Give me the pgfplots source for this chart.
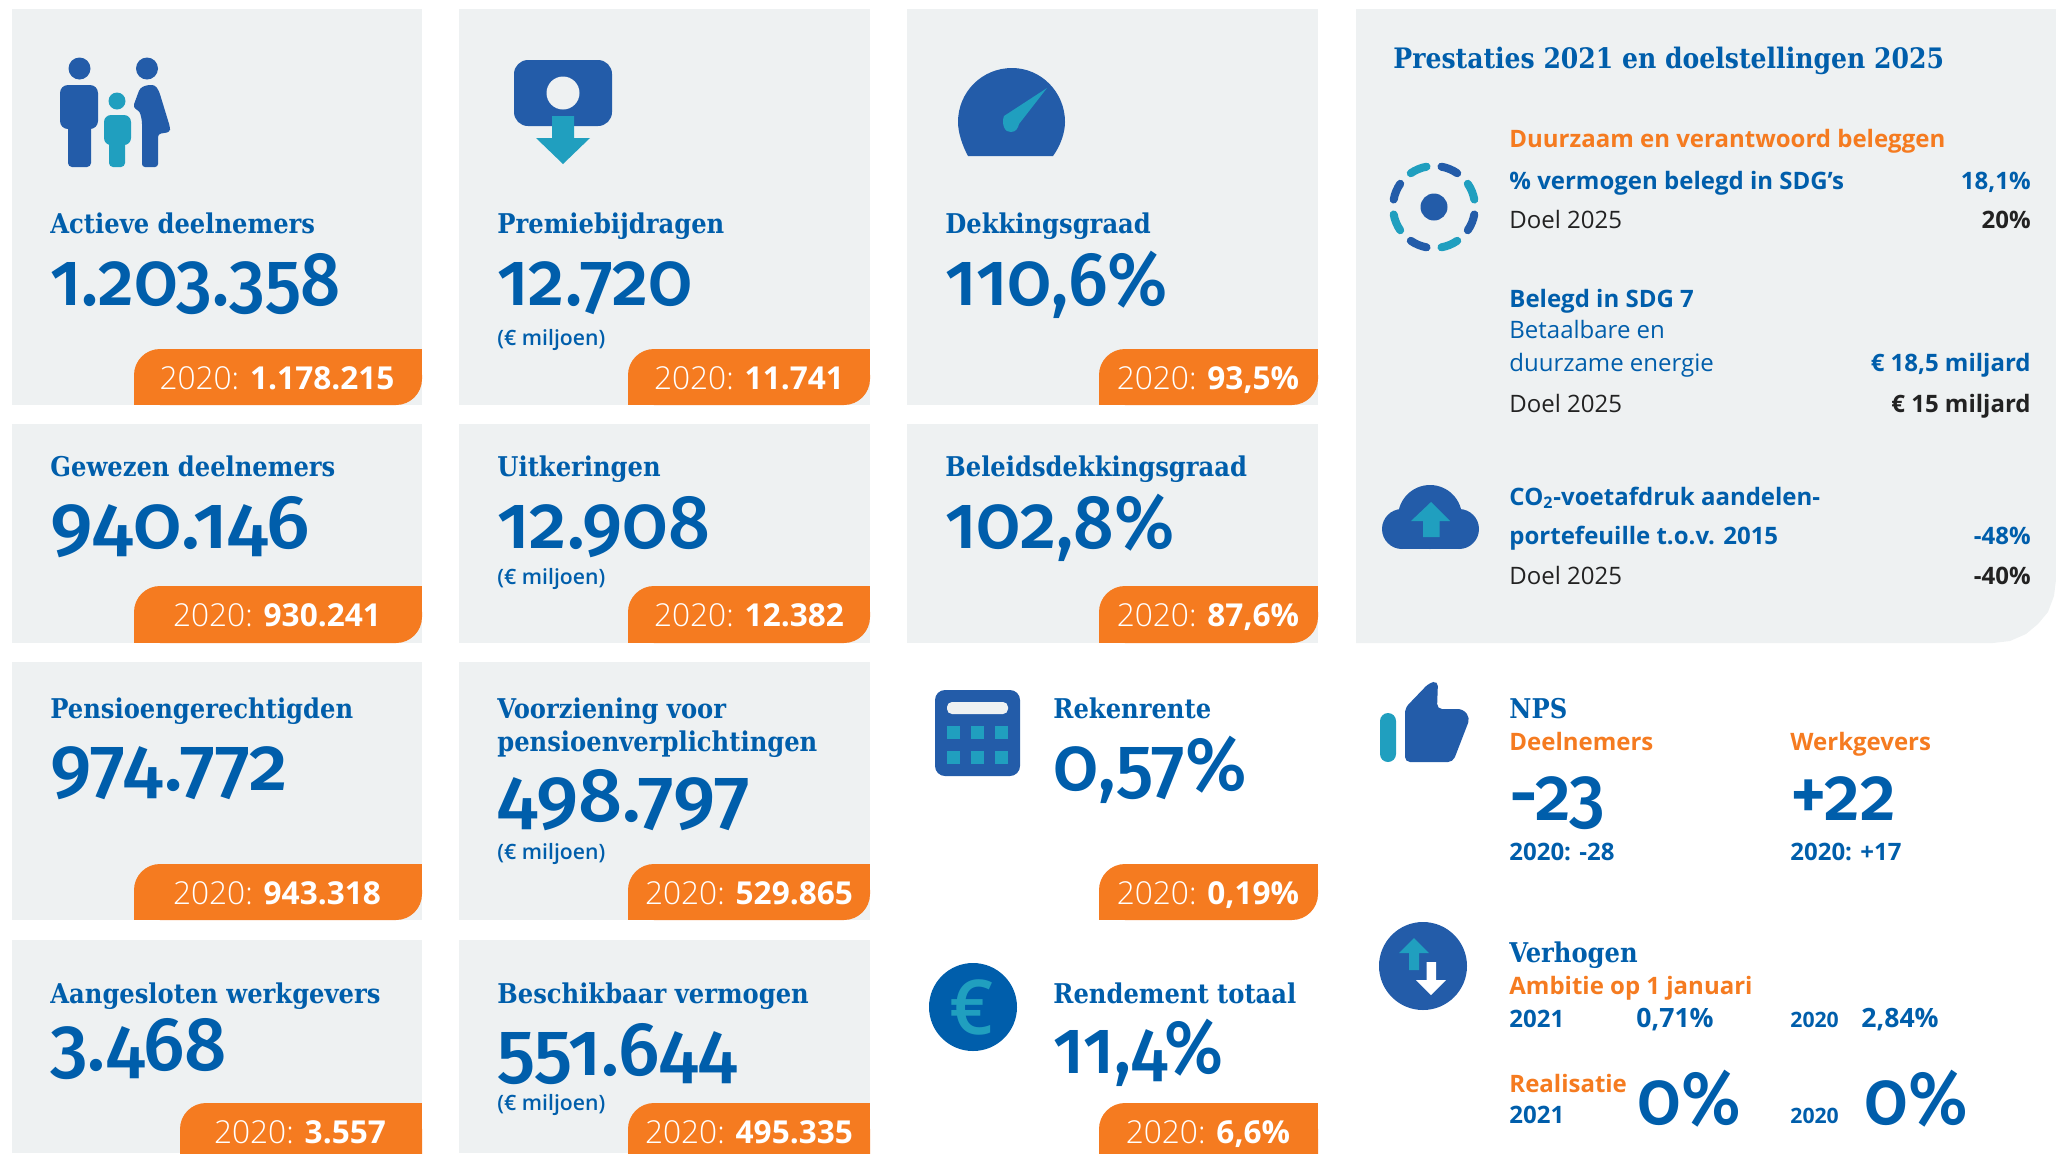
\documentclass[border=0pt]{standalone}
\usepackage{fontspec}
\usepackage{graphicx}
\usepackage{pgfplots}
\pgfplotsset{compat=1.18}
\setmainfont{Open Sans}
\newfontfamily\semi{Open Sans Semibold}
\newfontfamily\light{Open Sans Light}
\newfontfamily\bignum[Numbers=OldStyle]{Fira Sans Medium}
\newfontfamily\ttl[FakeStretch=0.99]{DejaVu Serif Condensed Bold}
\definecolor{panel}{HTML}{EEF1F2}
\definecolor{tabor}{HTML}{F57B20}
\definecolor{tblue}{HTML}{005EAB}
\definecolor{iblue}{HTML}{235CA9}
\definecolor{teal1}{HTML}{209FBF}
\definecolor{dark1}{HTML}{222222}
\newcommand\card[4]{\addplot[fill=panel,draw=none] coordinates {(#1,#3) (#2,#3) (#2,#4) (#1,#4)} --cycle;}
\newcommand\tab[4]{%
  \pgfmathsetmacro\xa{#1+28}\pgfmathsetmacro\xb{#2-28}\pgfmathsetmacro\ya{#3+27}\pgfmathsetmacro\yb{#4-27}%
  \addplot[fill=tabor,draw=none,rounded corners=13pt] coordinates {(#1,#3) (#2,#3) (#2,#4) (#1,#4)} --cycle;
  \addplot[fill=tabor,draw=none] coordinates {(\xb,#3) (#2,#3) (#2,\ya) (\xb,\ya)} --cycle;
  \addplot[fill=tabor,draw=none] coordinates {(#1,\yb) (\xa,\yb) (\xa,#4) (#1,#4)} --cycle;
}
\newcommand\dashh[4]{\draw[#4,line width=4pt,line cap=round] (1434,207) ++(#1:20.5pt) arc[start angle=#1,end angle=#2,radius=20.5pt];}
% x, baseline y, style, text
\newcommand\T[4]{\node[anchor=base west,inner sep=0pt,text=#3] at (#1,#2) {#4};}
\newcommand\R[4]{\node[anchor=base east,inner sep=0pt,text=#3] at (#1,#2) {#4};}
\newcommand\C[4]{\node[anchor=base,inner sep=0pt,text=#3] at (#1,#2) {#4};}
\newcommand\ttlf{\ttl\fontsize{13.6pt}{13.6pt}\selectfont}
\newcommand\bigf[2]{\scalebox{#1}[1]{\bignum\fontsize{38pt}{38pt}\selectfont #2}}
\newcommand\tabt[2]{{\fontsize{15.8pt}{15.8pt}\selectfont{\light 2020:} \textbf{#2}}}
\newcommand\miljoen[2]{\T{#1}{#2}{tblue}{\semi\fontsize{10.6pt}{10.6pt}\selectfont (€ miljoen)}}
\newcommand\bodyf{\fontsize{12pt}{12pt}\selectfont}
\newcommand\pctf{\fontsize{13.3pt}{13.3pt}\selectfont}
\begin{document}
\begin{tikzpicture}
\begin{axis}[scale only axis,width=1028pt,height=576.5pt,xmin=0,xmax=2056,ymin=0,ymax=1153,y dir=reverse,axis lines=none]
% cards
\card{12}{422}{9}{405}\card{459}{870}{9}{405}\card{907}{1318}{9}{405}
\card{12}{422}{424}{643}\card{459}{870}{424}{643}\card{907}{1318}{424}{643}
\card{12}{422}{662}{920}\card{459}{870}{662}{920}
\card{12}{422}{940}{1153}\card{459}{870}{940}{1153}
\addplot[fill=panel,draw=none] coordinates {(1356,9) (2056,9) (2056,580) (2054,596) (2048,612) (2038,624) (2026,634) (2010,641) (1993,643) (1356,643)} --cycle;
% tabs
\tab{134}{422}{349}{405}\tab{628}{870}{349}{405}\tab{1099}{1318}{349}{405}
\tab{134}{422}{586}{643}\tab{628}{870}{586}{643}\tab{1099}{1318}{586}{643}
\tab{134}{422}{864}{920}\tab{628}{870}{864}{920}\tab{1099}{1318}{864}{920}
\tab{180}{422}{1103}{1200}\tab{628}{870}{1103}{1200}\tab{1099}{1318}{1103}{1200}
% family icon
\fill[iblue] (79.5,68.5) ellipse[x radius=11,y radius=11];
\fill[iblue] (147,68.5) ellipse[x radius=11,y radius=11];
\fill[teal1] (117,101) ellipse[x radius=8.5,y radius=8.5];
\fill[iblue,rounded corners=4pt] (60,85) -- (98,85) -- (98,129) -- (60,129) -- cycle;
\fill[iblue,rounded corners=2pt] (68,120) -- (91,120) -- (91,167) -- (68,167) -- cycle;
\fill[teal1,rounded corners=3.5pt] (104,115) -- (131,115) -- (131,145) -- (104,145) -- cycle;
\fill[teal1,rounded corners=2pt] (109,135) -- (125,135) -- (125,167) -- (109,167) -- cycle;
\fill[iblue,rounded corners=1.5pt] (147,85) -- (140,88) -- (133,107) .. controls (140,112) .. (142,121) -- (142,167) -- (158,167) -- (158,134) -- (170,132) -- (170,127) -- (159,91) -- (155,85) -- cycle;
% premie icon
\fill[iblue,rounded corners=7pt] (514,60) -- (612,60) -- (612,126) -- (514,126) -- cycle;
\fill[panel] (563,93) ellipse[x radius=16.5,y radius=16.5];
\fill[teal1] (552,116) -- (574,116) -- (574,138) -- (590,138) -- (563,164) -- (536,138) -- (552,138) -- cycle;
% gauge
\fill[iblue] (968,156) .. controls (962,145) and (958,132) .. (958,122) .. controls (958,92) and (982,68) .. (1012,68) .. controls (1041,68) and (1065,92) .. (1065,122) .. controls (1065,132) and (1061,145) .. (1053,156) -- cycle;
\fill[teal1] (1047,88) -- (1004,116) .. controls (1001,124) and (1005,133) .. (1011,132) .. controls (1016,132) and (1018,128) .. (1019,124) -- cycle;
% calculator
\fill[iblue,rounded corners=5pt] (935,690) -- (1020,690) -- (1020,776) -- (935,776) -- cycle;
\fill[panel,rounded corners=2.5pt] (947,702) -- (1008,702) -- (1008,714) -- (947,714) -- cycle;
\fill[teal1] (947,726) rectangle (960,739); \fill[teal1] (971,726) rectangle (984,739); \fill[teal1] (995,726) rectangle (1008,739);
\fill[teal1] (947,751) rectangle (960,764); \fill[teal1] (971,751) rectangle (984,764); \fill[teal1] (995,751) rectangle (1008,764);
% euro
\fill[tblue] (973,1007) ellipse[x radius=44,y radius=44];
\node[text=teal1,inner sep=0pt] at (972,1007) {\fontsize{38pt}{38pt}\selectfont\semi €};
% thumb
\fill[teal1,rounded corners=4pt] (1380,713) -- (1396,713) -- (1396,762) -- (1380,762) -- cycle;
\fill[iblue,rounded corners=2.5pt] (1405,708) -- (1429,683) -- (1438,681) -- (1437,709) -- (1463,709) -- (1470,718) -- (1453,762) -- (1405,762) -- cycle;
% verhogen
\fill[iblue] (1423,966) ellipse[x radius=44,y radius=44];
\fill[teal1] (1414,938) -- (1429,953) -- (1419,953) -- (1419,970) -- (1409,970) -- (1409,953) -- (1399,953) -- cycle;
\fill[white] (1426.5,962) -- (1436,962) -- (1436,980) -- (1446,980) -- (1431,995) -- (1416,980) -- (1426.5,980) -- cycle;
% dashes ring
\fill[iblue] (1434,207) ellipse[x radius=13.5,y radius=13.5];
\dashh{10.5}{34.5}{}{teal1}\dashh{55.5}{79.5}{}{iblue}\dashh{100.5}{124.5}{}{teal1}\dashh{145.5}{169.5}{}{iblue}
\dashh{190.5}{214.5}{}{teal1}\dashh{235.5}{259.5}{}{iblue}\dashh{280.5}{304.5}{}{teal1}\dashh{325.5}{349.5}{}{iblue}
% cloud
\fill[iblue] (1430,517) ellipse[x radius=32,y radius=32];
\fill[iblue] (1402,529) ellipse[x radius=20,y radius=20];
\fill[iblue] (1459,529) ellipse[x radius=20,y radius=20];
\fill[iblue] (1402,525) rectangle (1459,549);
\fill[teal1] (1431,502) -- (1450,521) -- (1439.5,521) -- (1439.5,537) -- (1423,537) -- (1423,521) -- (1411,521) -- cycle;
% titles
\T{50}{233}{tblue}{\ttlf Actieve deelnemers}
\T{497}{233}{tblue}{\ttlf Premiebijdragen}
\T{945}{233}{tblue}{\ttlf Dekkingsgraad}
\T{50}{476}{tblue}{\ttlf Gewezen deelnemers}
\T{497}{476}{tblue}{\ttlf Uitkeringen}
\T{945}{476}{tblue}{\ttlf Beleidsdekkingsgraad}
\T{50}{718}{tblue}{\ttlf Pensioengerechtigden}
\T{497}{718}{tblue}{\ttlf Voorziening voor}
\T{497}{751}{tblue}{\ttlf pensioenverplichtingen}
\T{1053}{718}{tblue}{\ttlf Rekenrente}
\T{50}{1003}{tblue}{\ttlf Aangesloten werkgevers}
\T{497}{1003}{tblue}{\ttlf Beschikbaar vermogen}
\T{1053}{1003}{tblue}{\ttlf Rendement totaal}
% big numbers
\T{50}{305}{tblue}{\bigf{0.93}{1.203.358}}
\T{497}{305}{tblue}{\bigf{0.94}{12.720}}
\T{945}{305}{tblue}{\bigf{0.94}{110,6\%}}
\T{50}{548}{tblue}{\bigf{1.03}{940.146}}
\T{497}{548}{tblue}{\bigf{0.97}{12.908}}
\T{945}{548}{tblue}{\bigf{0.94}{102,8\%}}
\T{50}{790}{tblue}{\bigf{1.00}{974.772}}
\T{497}{821}{tblue}{\bigf{1.02}{498.797}}
\T{1053}{790}{tblue}{\bigf{0.96}{0,57\%}}
\T{50}{1070}{tblue}{\bigf{0.98}{3.468}}
\T{497}{1075}{tblue}{\bigf{0.98}{551.644}}
\T{1053}{1073}{tblue}{\bigf{0.92}{11,4\%}}
\miljoen{497}{345}\miljoen{497}{584}\miljoen{497}{859}\miljoen{497}{1110}
% tab texts
\C{277}{389}{white}{\tabt{}{1.178.215}}
\C{749}{389}{white}{\tabt{}{11.741}}
\C{1208}{389}{white}{\tabt{}{93,5\%}}
\C{277}{626}{white}{\tabt{}{930.241}}
\C{749}{626}{white}{\tabt{}{12.382}}
\C{1208}{626}{white}{\tabt{}{87,6\%}}
\C{277}{904}{white}{\tabt{}{943.318}}
\C{749}{904}{white}{\tabt{}{529.865}}
\C{1208}{904}{white}{\tabt{}{0,19\%}}
\C{300}{1143}{white}{\tabt{}{3.557}}
\C{749}{1143}{white}{\tabt{}{495.335}}
\C{1208}{1143}{white}{\tabt{}{6,6\%}}
% right panel
\T{1393}{68}{tblue}{\ttl\fontsize{14.1pt}{14.1pt}\selectfont Prestaties 2021 en doelstellingen 2025}
\T{1509}{147}{tabor}{\bodyf\textbf{Duurzaam en verantwoord beleggen}}
\T{1509}{189}{tblue}{\bodyf\textbf{\% vermogen belegd in SDG’s}}
\R{2031}{189}{tblue}{\bodyf\textbf{18,1\%}}
\T{1509}{228}{dark1}{\bodyf Doel 2025}
\R{2031}{228}{dark1}{\bodyf\textbf{20\%}}
\T{1509}{307}{tblue}{\bodyf\textbf{Belegd in SDG 7}}
\T{1509}{338}{tblue}{\bodyf Betaalbare en}
\T{1509}{371}{tblue}{\bodyf duurzame energie}
\R{2031}{371}{tblue}{\bodyf\textbf{€ 18,5 miljard}}
\T{1509}{412}{dark1}{\bodyf Doel 2025}
\R{2031}{412}{dark1}{\bodyf\textbf{€ 15 miljard}}
\T{1509}{505}{tblue}{\bodyf\textbf{CO\textsubscript{2}-voetafdruk aandelen-}}
\T{1509}{544}{tblue}{\bodyf\textbf{portefeuille t.o.v. 2015}}
\R{2031}{544}{tblue}{\bodyf\textbf{-48\%}}
\T{1509}{584}{dark1}{\bodyf Doel 2025}
\R{2031}{584}{dark1}{\bodyf\textbf{-40\%}}
% NPS
\T{1509}{718}{tblue}{\ttlf NPS}
\T{1509}{750}{tabor}{\bodyf\textbf{Deelnemers}}
\T{1790}{750}{tabor}{\bodyf\textbf{Werkgevers}}
\T{1509}{820}{tblue}{\bigf{0.93}{-23}}
\T{1790}{820}{tblue}{\bigf{0.93}{+22}}
\T{1509}{860}{tblue}{\bodyf\textbf{2020: -28}}
\T{1790}{860}{tblue}{\bodyf\textbf{2020: +17}}
% Verhogen
\T{1509}{962}{tblue}{\ttlf Verhogen}
\T{1509}{994}{tabor}{\bodyf\textbf{Ambitie op 1 januari}}
\T{1509}{1027}{tblue}{\bodyf\textbf{2021}}
\T{1636}{1027}{tblue}{\pctf\textbf{0,71\%}}
\T{1790}{1027}{tblue}{\fontsize{10.6pt}{10.6pt}\selectfont\textbf{2020}}
\T{1861}{1027}{tblue}{\pctf\textbf{2,84\%}}
\T{1509}{1092}{tabor}{\bodyf\textbf{Realisatie}}
\T{1509}{1123}{tblue}{\bodyf\textbf{2021}}
\T{1637}{1124}{tblue}{\bigf{0.93}{0\%}}
\T{1790}{1123}{tblue}{\fontsize{10.6pt}{10.6pt}\selectfont\textbf{2020}}
\T{1864}{1124}{tblue}{\bigf{0.93}{0\%}}
\end{axis}
\pgfresetboundingbox
\path[use as bounding box] (0,0) rectangle (1028pt,576.5pt);
\end{tikzpicture}
\end{document}
